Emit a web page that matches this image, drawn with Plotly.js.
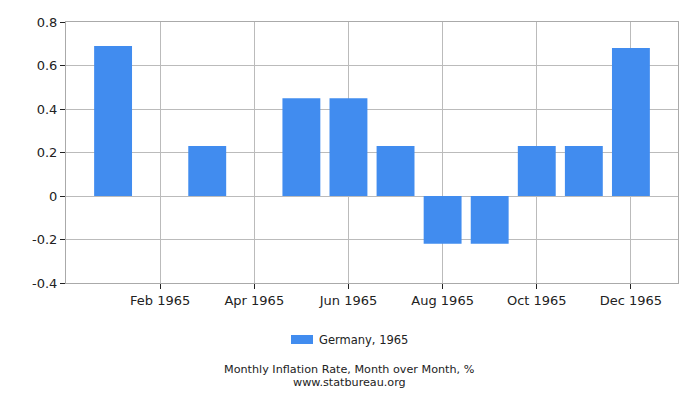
<!DOCTYPE html>
<html><head><meta charset="utf-8">
<script src="https://cdn.plot.ly/plotly-3.0.1.min.js"></script>
<style>body{margin:0;padding:0;background:#fff}#chart{width:700px;height:400px}</style>
</head><body><div id="chart"></div>
<script>
const months = ['Jan 1965','Feb 1965','Mar 1965','Apr 1965','May 1965','Jun 1965','Jul 1965','Aug 1965','Sep 1965','Oct 1965','Nov 1965','Dec 1965'];
const values = [0.69, 0, 0.23, 0, 0.45, 0.45, 0.23, -0.22, -0.22, 0.23, 0.23, 0.68];
const tickLabels = ['Feb 1965','Apr 1965','Jun 1965','Aug 1965','Oct 1965','Dec 1965'];
const yTicks = [-0.4, -0.2, 0, 0.2, 0.4, 0.6, 0.8];
const seriesName = 'Germany, 1965';
const chartTitle = 'Monthly Inflation Rate, Month over Month, %';
const source = 'www.statbureau.org';
const barColor = '#418CEF';

const ff = 'DejaVu Sans, Verdana, sans-serif';
const font = {family: ff, size: 13, color: '#222'};
Plotly.newPlot('chart', [{
  type: 'bar', x: months, y: values, name: seriesName,
  marker: {color: barColor}, showlegend: false
}], {
  width: 700, height: 400,
  margin: {l: 66, r: 22, t: 22, b: 117},
  paper_bgcolor: '#fff', plot_bgcolor: '#fff',
  font: font,
  bargap: 0.195,
  xaxis: {type: 'category', range: [-1, 12], tickvals: tickLabels, ticktext: tickLabels,
    showgrid: true, gridcolor: '#bbb', ticks: 'outside', ticklen: 5, tickcolor: '#222',
    showline: true, linecolor: '#aaa', mirror: true, zeroline: false, fixedrange: true,
    tickfont: font},
  yaxis: {range: [-0.4, 0.8], tickvals: yTicks, ticktext: yTicks.map(v => String(v)),
    showgrid: true, gridcolor: '#bbb', ticks: 'outside', ticklen: 5, tickcolor: '#222',
    showline: true, linecolor: '#aaa', mirror: true, zeroline: true, zerolinecolor: '#bbb', zerolinewidth: 1,
    tickfont: font},
  shapes: [
    {type: 'rect', xref: 'paper', yref: 'paper', x0: 0.3676, x1: 0.4036, y0: -0.2337, y1: -0.1992,
     fillcolor: barColor, line: {width: 0}}
  ],
  annotations: [
    {text: seriesName, xref: 'paper', yref: 'paper', x: 0.4101, y: -0.2184, xanchor: 'left', yanchor: 'middle', showarrow: false, font: {family: ff, size: 11.5, color: '#222'}},
    {text: chartTitle, xref: 'paper', yref: 'paper', x: 0.464, y: -0.333, xanchor: 'center', yanchor: 'middle', showarrow: false, font: {family: ff, size: 11.2, color: '#222'}},
    {text: source, xref: 'paper', yref: 'paper', x: 0.464, y: -0.381, xanchor: 'center', yanchor: 'middle', showarrow: false, font: {family: ff, size: 11.2, color: '#222'}}
  ]
}, {displayModeBar: false, staticPlot: true});
</script></body></html>
